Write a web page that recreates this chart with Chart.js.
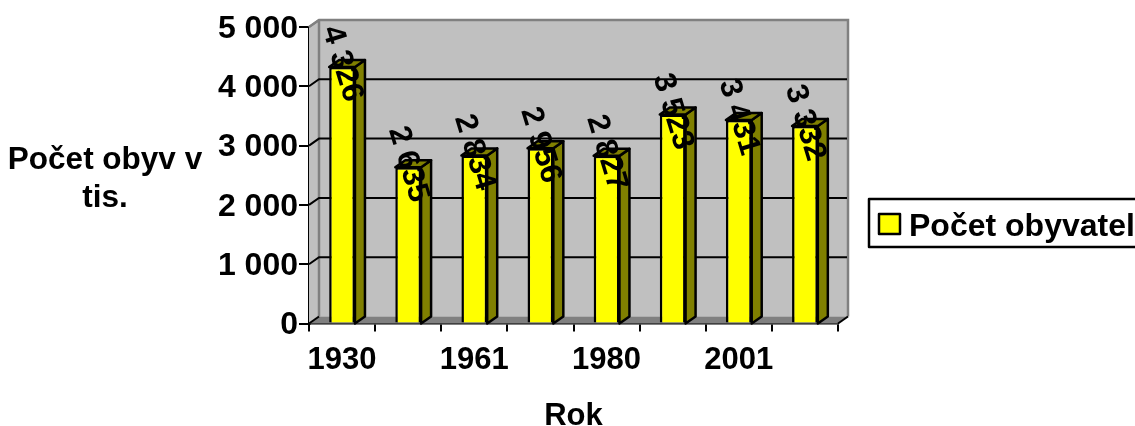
<!DOCTYPE html>
<html><head><meta charset="utf-8">
<style>html,body{margin:0;padding:0;background:#fff}canvas{display:block}</style>
<script src="https://cdn.jsdelivr.net/npm/chart.js@4"></script></head>
<body><canvas id="c" width="1135" height="426"></canvas>
<script>
const categories = ['1930','1950','1961','1970','1980','1991','2001','2011'];
const populationValues = [4326,2635,2834,2956,2827,3523,3431,3332];
const seriesName = 'Počet obyvatel';
const yTitleLines = ['Počet obyv v','tis.'];
const xTitle = 'Rok';
const FONT = '"Liberation Sans", Arial, sans-serif';
const DX = 10, DY = 7;
const fmt = v => String(v).replace(/\B(?=(\d{3})+$)/g,' ');

const scene = {
  id:'scene',
  beforeDatasetsDraw(ch){
    const {ctx, chartArea:a, scales:{y}} = ch;
    ctx.save();
    ctx.fillStyle='#c0c0c0';
    ctx.fillRect(a.left+DX,a.top-DY,a.right-a.left,a.bottom-a.top);
    ctx.beginPath();ctx.moveTo(a.left,a.top);ctx.lineTo(a.left+DX,a.top-DY);ctx.lineTo(a.left+DX,a.bottom-DY);ctx.lineTo(a.left,a.bottom);ctx.closePath();ctx.fill();
    ctx.fillStyle='#808080';
    ctx.beginPath();ctx.moveTo(a.left,a.bottom);ctx.lineTo(a.left+DX,a.bottom-DY);ctx.lineTo(a.right+DX,a.bottom-DY);ctx.lineTo(a.right,a.bottom);ctx.closePath();ctx.fill();
    ctx.strokeStyle='#808080';ctx.lineWidth=2.5;
    ctx.beginPath();ctx.moveTo(a.left,a.top);ctx.lineTo(a.left+DX,a.top-DY);ctx.lineTo(a.right+DX,a.top-DY);ctx.lineTo(a.right+DX,a.bottom-DY);ctx.moveTo(a.left+DX,a.top-DY);ctx.lineTo(a.left+DX,a.bottom-DY);ctx.stroke();
    ctx.strokeStyle='#000';ctx.lineWidth=2;
    y.ticks.forEach(t=>{
      if(t.value===0||t.value===5000)return;
      const py=y.getPixelForValue(t.value);
      ctx.beginPath();ctx.moveTo(a.left,py);ctx.lineTo(a.left+DX,py-DY);ctx.lineTo(a.right+DX-1,py-DY);ctx.stroke();
    });
    ctx.beginPath();ctx.moveTo(a.left,a.top);ctx.lineTo(a.left+DX,a.top-DY);ctx.strokeStyle='#808080';ctx.stroke();
    ctx.strokeStyle='#000';
    ctx.beginPath();ctx.moveTo(a.right,a.bottom);ctx.lineTo(a.right+DX,a.bottom-DY);ctx.stroke();
    ctx.beginPath();ctx.moveTo(a.left,a.bottom);ctx.lineTo(a.left+DX,a.bottom-DY);ctx.stroke();
    ctx.restore();
  },
  afterDatasetsDraw(ch){
    const {ctx} = ch, meta = ch.getDatasetMeta(0), a = ch.chartArea;
    ctx.save();
    ctx.strokeStyle='#000';ctx.lineWidth=2.5;ctx.lineJoin='round';ctx.fillStyle='#808000';
    meta.data.forEach(b=>{
      const r=b.x+b.width/2,l=b.x-b.width/2,t=b.y,bt=a.bottom;
      ctx.beginPath();ctx.moveTo(r,t);ctx.lineTo(r+DX,t-DY);ctx.lineTo(r+DX,bt-DY);ctx.lineTo(r,bt);ctx.closePath();ctx.fill();ctx.stroke();
      ctx.beginPath();ctx.moveTo(l,t);ctx.lineTo(l+DX,t-DY);ctx.lineTo(r+DX,t-DY);ctx.lineTo(r,t);ctx.closePath();ctx.fill();ctx.stroke();
    });
    ctx.fillStyle='#000';ctx.font='bold 31px '+FONT;ctx.textAlign='center';ctx.textBaseline='middle';
    meta.data.forEach((b,i)=>{
      ctx.save();ctx.translate(b.x,b.y-3);ctx.rotate(73*Math.PI/180);
      ctx.fillText(fmt(populationValues[i]),0,0);ctx.restore();
    });
    ctx.font='bold 31.5px '+FONT;
    yTitleLines.forEach((s,i)=>ctx.fillText(s,105,160+i*38));
    ctx.fillStyle='#fff';ctx.strokeStyle='#000';ctx.lineWidth=2.5;
    ctx.fillRect(869,199,270,48);ctx.strokeRect(869,199,270,48);
    ctx.fillStyle='#ffff00';ctx.fillRect(879,214,21,20);ctx.strokeRect(879,214,21,20);
    ctx.fillStyle='#000';ctx.textAlign='left';ctx.font='bold 32px '+FONT;ctx.fillText(seriesName,909,227);
    ctx.restore();
  }
};

new Chart(document.getElementById('c'),{
  type:'bar',
  data:{labels:categories,datasets:[{label:seriesName,data:populationValues,backgroundColor:'#ffff00',borderColor:'#000',borderWidth:2.5,barPercentage:0.39,categoryPercentage:1}]},
  plugins:[scene],
  options:{
    responsive:false,animation:false,devicePixelRatio:1,
    layout:{padding:{top:27,right:297,bottom:0,left:0}},
    plugins:{legend:{display:false},tooltip:{enabled:false}},
    scales:{
      x:{
        position:'bottom',
        afterFit(s){s.height=102.5;},
        grid:{display:true,drawOnChartArea:false,color:'#000',lineWidth:2,tickLength:8,offset:true},
        border:{color:'#000',width:2.5},
        ticks:{color:'#000',font:{family:FONT,size:31,weight:'bold'},maxRotation:0,autoSkip:false,padding:10,
          callback(v,i){return i%2===0?categories[i]:'';}},
        title:{display:true,text:xTitle,color:'#000',font:{family:FONT,size:31,weight:'bold'},padding:{top:20,bottom:-9}}
      },
      y:{
        min:0,max:5000,
        afterFit(s){s.width=309;},
        grid:{display:true,drawOnChartArea:false,color:'#000',lineWidth:2,tickLength:10},
        border:{color:'#000',width:2.5},
        ticks:{stepSize:1000,color:'#000',font:{family:FONT,size:32,weight:'bold'},padding:1,labelOffset:2,callback:v=>fmt(v)}
      }
    }
  }
});
</script></body></html>
